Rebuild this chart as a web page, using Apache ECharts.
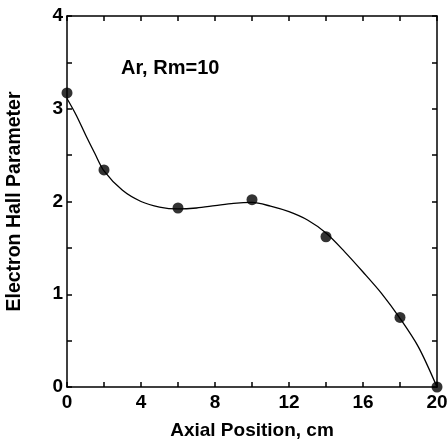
<!DOCTYPE html>
<html><head><meta charset="utf-8">
<script src="https://cdn.jsdelivr.net/npm/echarts@6/dist/echarts.min.js"></script>
<style>html,body{margin:0;padding:0;background:#fff}#c{width:447px;height:444px}</style>
</head><body><div id="c"></div>
<script>
// measured points
const pointX = [0, 2, 6, 10, 14, 18, 20];
const pointY = [3.17, 2.34, 1.93, 2.02, 1.62, 0.75, 0.0];
// fitted curve
const curveX = [0, 0.5, 1, 1.5, 2, 3, 4, 5, 6, 7, 8, 9, 10, 11, 12, 13, 14, 15, 16, 17, 18, 19, 20];
const curveY = [3.11, 2.93, 2.72, 2.52, 2.33, 2.12, 2.00, 1.94, 1.92, 1.93, 1.955, 1.98, 1.99, 1.95, 1.89, 1.80, 1.66, 1.46, 1.24, 1.01, 0.74, 0.43, 0.0];
const xLabels = ['0', '4', '8', '12', '16', '20'];
const yLabels = ['0', '1', '2', '3', '4'];
const annotation = 'Ar, Rm=10';
const xTitle = 'Axial Position, cm';
const yTitle = 'Electron Hall Parameter';

const font = 'Liberation Sans, Arial, sans-serif';
const chart = echarts.init(document.getElementById('c'), null, {renderer: 'canvas'});
const lineStyle = {color: '#000', width: 1.5};
chart.setOption({
  animation: false,
  backgroundColor: '#fff',
  grid: {left: 67, right: 10, top: 16, bottom: 57, containLabel: false, outerBoundsMode: 'none'},
  xAxis: [{
    type: 'value', min: 0, max: 20, interval: 2,
    axisLine: {show: true, onZero: false, lineStyle},
    axisTick: {show: true, inside: true, length: 5, lineStyle},
    splitLine: {show: false},
    axisLabel: {margin: 6, color: '#000', fontSize: 19, fontWeight: 'bold', fontFamily: font,
      formatter: v => xLabels.includes(String(v)) ? String(v) : ''},
    name: xTitle, nameLocation: 'middle', nameGap: 34,
    nameTextStyle: {color: '#000', fontSize: 19, fontWeight: 'bold', fontFamily: font}
  }, {
    type: 'value', position: 'top', min: 0, max: 20, interval: 2,
    axisLine: {show: true, onZero: false, lineStyle},
    axisTick: {show: true, inside: true, length: 5, lineStyle},
    splitLine: {show: false}, axisLabel: {show: false}
  }],
  yAxis: [{
    type: 'value', min: 0, max: 4, interval: 0.5,
    axisLine: {show: true, onZero: false, lineStyle},
    axisTick: {show: true, inside: true, length: 5, lineStyle},
    splitLine: {show: false},
    axisLabel: {margin: 4, color: '#000', fontSize: 19, fontWeight: 'bold', fontFamily: font,
      formatter: v => yLabels.includes(String(v)) ? String(v) : ''},
    name: yTitle, nameLocation: 'middle', nameGap: 42, nameRotate: 90,
    nameTextStyle: {color: '#000', fontSize: 19.5, fontWeight: 'bold', fontFamily: font}
  }, {
    type: 'value', position: 'right', min: 0, max: 4, interval: 0.5,
    axisLine: {show: true, onZero: false, lineStyle},
    axisTick: {show: true, inside: true, length: 5, lineStyle},
    splitLine: {show: false}, axisLabel: {show: false}
  }],
  graphic: [{
    type: 'text', left: 121, top: 58,
    style: {text: annotation, fill: '#000', font: 'bold 20px ' + font}
  }],
  series: [{
    type: 'line', xAxisIndex: 0, yAxisIndex: 0,
    data: curveX.map((x, i) => [x, curveY[i]]),
    smooth: 0.3, showSymbol: false, clip: false,
    lineStyle: {color: '#000', width: 1.3}
  }, {
    type: 'scatter', xAxisIndex: 0, yAxisIndex: 0,
    data: pointX.map((x, i) => [x, pointY[i]]),
    symbol: 'circle', symbolSize: 11, clip: false,
    itemStyle: {color: '#000'}
  }]
});
</script></body></html>
